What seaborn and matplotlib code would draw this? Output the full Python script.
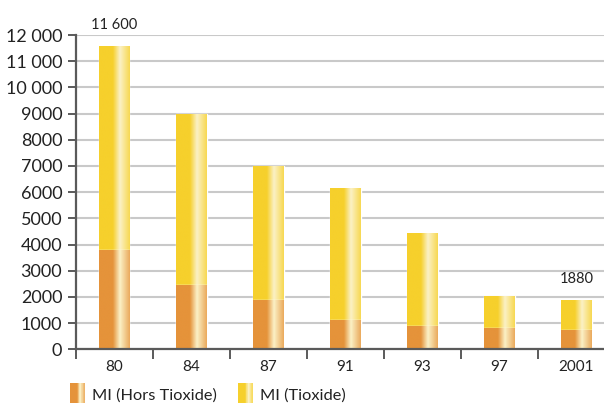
import numpy as np
import pandas as pd
import seaborn as sns
import matplotlib
matplotlib.use("Agg")
import matplotlib.pyplot as plt
from matplotlib.colors import to_rgb
from matplotlib.patches import Rectangle
from matplotlib.legend_handler import HandlerBase

# Data
years = ["80", "84", "87", "91", "93", "97", "2001"]
hors_tioxide = [3780, 2450, 1880, 1100, 900, 810, 740]
total = [11600, 9000, 7000, 6150, 4440, 2030, 1880]
series_names = ["MI (Hors Tioxide)", "MI (Tioxide)"]
value_labels = {"80": "11 600", "2001": "1880"}
ytick_values = list(range(0, 12001, 1000))
ytick_labels = ["0", "1000", "2000", "3000", "4000", "5000", "6000", "7000",
                "8000", "9000", "10 000", "11 000", "12 000"]

ORANGE = "#e5933a"
YELLOW = "#f6d02c"
HIGHLIGHT = "#fbf1c6"

sns.set_theme(style="white")
plt.rcParams["font.family"] = ["Lato", "DejaVu Sans"]


def gradient_row(base, n=64):
    """Horizontal cylinder shading: flat base, bright streak at ~2/3, softer edge."""
    b = np.array(to_rgb(base))
    h = np.array(to_rgb(HIGHLIGHT))
    t = np.linspace(0, 1, n)
    w = np.zeros(n)
    rise = (t > 0.45) & (t <= 0.68)
    w[rise] = (t[rise] - 0.45) / 0.23
    fall = t > 0.68
    w[fall] = 1 - (t[fall] - 0.68) / 0.32 * 0.75
    w = np.clip(w, 0, 1)
    row = b[None, :] * (1 - w[:, None]) + h[None, :] * w[:, None]
    return row[None, :, :]


fig = plt.figure(figsize=(6.04, 4.03), dpi=100)
ax = fig.add_axes([0.125, 0.1333, 0.875, 0.7797])

df = pd.DataFrame({"year": years, "total": total, "hors": hors_tioxide})
sns.barplot(data=df, x="year", y="total", color=YELLOW, width=0.40,
            saturation=1, ax=ax, zorder=3)
n_first = len(ax.patches)
sns.barplot(data=df, x="year", y="hors", color=ORANGE, width=0.40,
            saturation=1, ax=ax, zorder=4)

# overlay the shading on every bar
for i, p in enumerate(ax.patches):
    base = YELLOW if i < n_first else ORANGE
    x0, y0 = p.get_x(), p.get_y()
    w, h = p.get_width(), p.get_height()
    im = ax.imshow(gradient_row(base), extent=[x0, x0 + w, y0, y0 + h],
                   aspect="auto", interpolation="bilinear",
                   zorder=p.get_zorder() + 0.5)
    im.set_clip_path(p)

ax.set_xlim(-0.5, 6.357)
ax.set_ylim(0, 12000)

# axes styling
for s in ["top", "right"]:
    ax.spines[s].set_visible(False)
for s in ["left", "bottom"]:
    ax.spines[s].set_color("#5a5a5a")
    ax.spines[s].set_linewidth(1.6)
    ax.spines[s].set_zorder(6)

ax.set_yticks(ytick_values)
ax.set_yticklabels(ytick_labels)
ax.yaxis.grid(True, color="#c9c9c9", linewidth=1.5, zorder=0)
ax.set_axisbelow(True)
ax.tick_params(axis="y", which="major", direction="out", length=6, width=1.4,
               color="#5a5a5a", labelsize=13, labelcolor="#222222", pad=3.5, left=True)

ax.set_xticks(range(len(years)))
ax.set_xticklabels(years)
ax.set_xticks(np.arange(-0.5, len(years) - 0.5, 1.0), minor=True)
ax.tick_params(axis="x", which="major", length=0, labelsize=11,
               labelcolor="#222222", pad=8)
ax.tick_params(axis="x", which="minor", direction="out", length=7, width=1.4,
               color="#5a5a5a", bottom=True)
ax.set_xlabel("")
ax.set_ylabel("")

# value labels above the first and last bars
for idx, yr in enumerate(years):
    if yr in value_labels:
        ax.annotate(value_labels[yr], (idx, total[idx]), xytext=(0, 10),
                    textcoords="offset points", ha="center", va="bottom",
                    fontsize=10.5, color="#222222")


class GradientHandler(HandlerBase):
    def __init__(self, base):
        super().__init__()
        self.base = base

    def create_artists(self, legend, orig_handle, xdescent, ydescent,
                       width, height, fontsize, trans):
        row = gradient_row(self.base, n=24)[0]
        n = len(row)
        sw = width / n
        arts = []
        for k, c in enumerate(row):
            r = Rectangle((-xdescent + k * sw, -ydescent - 3), sw * 1.05, height + 6,
                          facecolor=c, edgecolor="none", transform=trans)
            arts.append(r)
        return arts


h1 = Rectangle((0, 0), 1, 1, color=ORANGE)
h2 = Rectangle((0, 0), 1, 1, color=YELLOW)
fig.legend([h1, h2], series_names, loc="center left",
           bbox_to_anchor=(0.116, 0.02), ncol=2, frameon=False,
           borderpad=0, borderaxespad=0,
           fontsize=11.8, handlelength=0.92, handleheight=1.0, handletextpad=0.42,
           columnspacing=1.3, labelcolor="#222222",
           handler_map={h1: GradientHandler(ORANGE), h2: GradientHandler(YELLOW)})

fig.savefig("out.png", dpi=100, facecolor="white")
